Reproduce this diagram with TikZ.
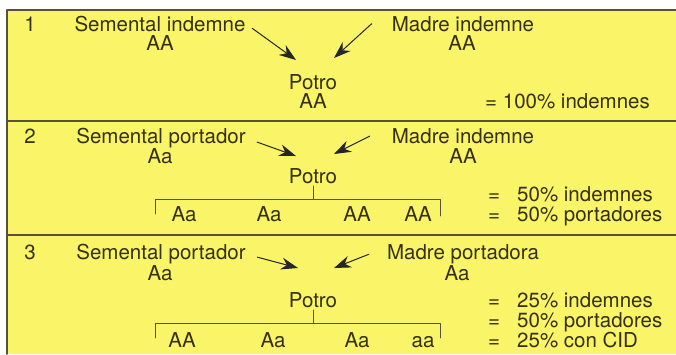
\documentclass[tikz,border=0pt]{standalone}
\usepackage{fontspec}
\setmainfont{TeX Gyre Heros}
\usetikzlibrary{arrows.meta}
\definecolor{amarillo}{RGB}{250,244,104}
\definecolor{tinta}{RGB}{52,48,16}
\definecolor{borde}{RGB}{85,82,55}
\tikzset{txt/.style={anchor=base,inner sep=0pt,text=tinta},
	flecha/.style={->,line width=1pt,draw=black!85},
	llave/.style={line width=.8pt,draw=borde}}
\begin{document}
\begin{tikzpicture}[x=1pt,y=-1pt,line join=round,line cap=round,>={Stealth[length=17pt,width=12pt]},font=\fontsize{20.5}{24}\selectfont]
	\useasboundingbox (0,0) rectangle (676,354);
	%Fondo y marcos
	\fill[amarillo] (7,10) rectangle (676,354);
	\draw[borde,line width=1.6pt] (676,10)--(7,10)--(7,354);
	\foreach \y in {121,235} \draw[borde,line width=1.6pt] (7,\y)--(676,\y);
	%Caso 1
	\node[txt] (n1) at (30,31) {1};
	\node[txt] (s1) at (160,31) {Semental indemne};
	\node[txt] (sg1) at (160,50) {AA};
	\node[txt] (m1) at (463,31) {Madre indemne};
	\node[txt] (mg1) at (462,50) {AA};
	\node[txt] (p1) at (313,89.5) {Potro};
	\node[txt] (pg1) at (313,108.5) {AA};
	\node[txt,anchor=base west] (r1) at (485,108.5) {= 100\% indemnes};
	\coordinate (t1s) at (296,60); \coordinate (t1m) at (334,58);
	\draw[flecha,shorten <=8pt] (s1.east)--(t1s);
	\draw[flecha] ([xshift=-20pt]m1.west)--(t1m);
	%Caso 2
	\node[txt] (n2) at (30,143.5) {2};
	\node[txt] (s2) at (161,143.5) {Semental portador};
	\node[txt] (sg2) at (160,163) {Aa};
	\node[txt] (m2) at (463,143.5) {Madre indemne};
	\node[txt] (mg2) at (463,163) {AA};
	\node[txt] (p2) at (313,183.5) {Potro};
	\coordinate (t2s) at (296,156); \coordinate (t2m) at (334,154);
	\draw[flecha,shorten <=12pt] (s2.east)--(t2s);
	\draw[flecha] ([xshift=-22pt]m2.west)--(t2m);
	\coordinate (b2l) at (155,199); \coordinate (b2r) at (440,199);
	\draw[llave,shorten <=2pt] (p2.south)--(p2.south |- b2l);
	\draw[llave] (b2l)++(0,15)--(b2l)--(b2r)--++(0,17);
	\foreach \x/\g [count=\i] in {184/Aa,269/Aa,357/AA,418/AA}
		\node[txt] (h2\i) at (\x,221.5) {\g};
	\foreach \y/\t [count=\i] in {201.5/50\% indemnes,221.5/50\% portadores}{
		\node[txt] (e2\i) at (494,\y) {=};
		\node[txt,anchor=base west] (r2\i) at (517,\y) {\t};}
	%Caso 3
	\node[txt] (n3) at (30,259.5) {3};
	\node[txt] (s3) at (161,259.5) {Semental portador};
	\node[txt] (sg3) at (160,280) {Aa};
	\node[txt] (m3) at (463,259.5) {Madre portadora};
	\node[txt] (mg3) at (457,280) {Aa};
	\node[txt] (p3) at (313,307.5) {Potro};
	\coordinate (t3s) at (298,268); \coordinate (t3m) at (334,268);
	\draw[flecha,shorten <=12pt] (s3.east)--(t3s);
	\draw[flecha] ([xshift=-18pt]m3.west)--(t3m);
	\coordinate (b3l) at (155,323); \coordinate (b3r) at (440,323);
	\draw[llave,shorten <=2pt] (p3.south)--(p3.south |- b3l);
	\draw[llave] (b3l)++(0,15)--(b3l)--(b3r)--++(0,15);
	\foreach \x/\g [count=\i] in {182/AA,273/Aa,357/Aa,423/aa}
		\node[txt] (h3\i) at (\x,347.5) {\g};
	\foreach \y/\t [count=\i] in {307.5/25\% indemnes,327.5/50\% portadores,347.5/25\% con CID}{
		\node[txt] (e3\i) at (494,\y) {=};
		\node[txt,anchor=base west] (r3\i) at (517,\y) {\t};}
\end{tikzpicture}
\end{document}
